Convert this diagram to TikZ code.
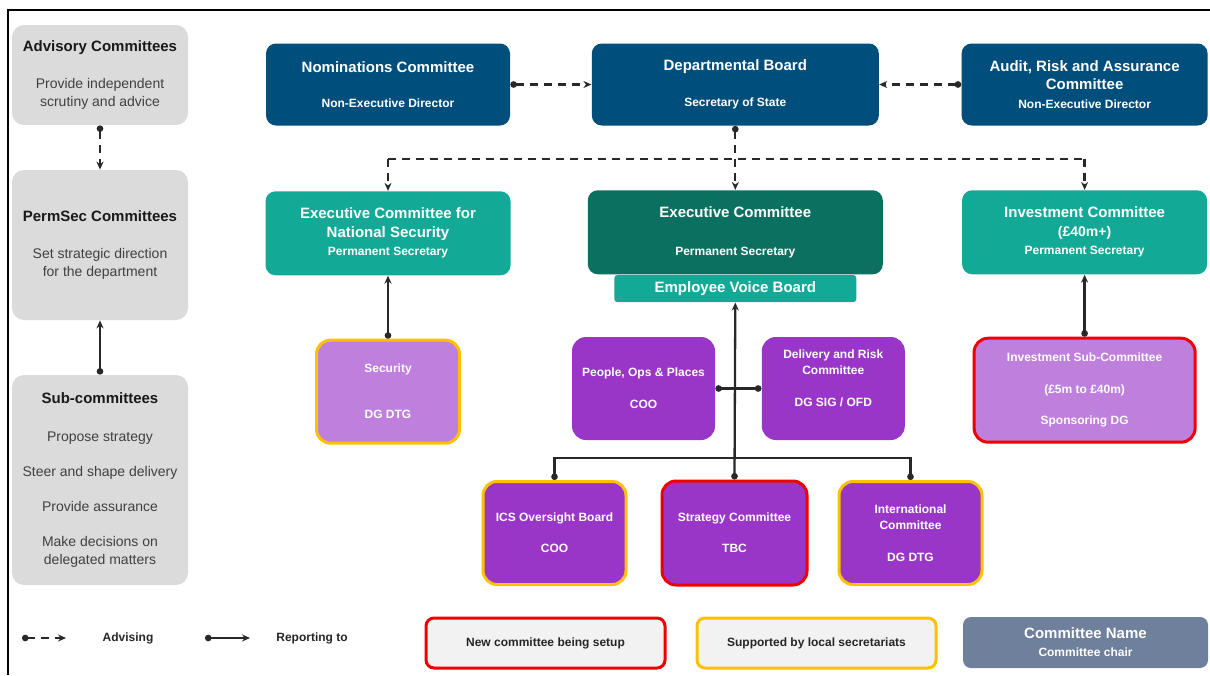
\documentclass[tikz,border=0pt]{standalone}
\usepackage{fontspec}
\setmainfont{Liberation Sans}
\usetikzlibrary{positioning,arrows.meta}

\definecolor{navy}{RGB}{0,78,123}
\definecolor{teal1}{RGB}{18,170,150}
\definecolor{tealdark}{RGB}{12,112,96}
\definecolor{violet1}{RGB}{153,54,200}
\definecolor{lilac}{RGB}{191,127,221}
\definecolor{panelgray}{RGB}{219,219,219}
\definecolor{amber}{RGB}{255,192,0}
\definecolor{alert}{RGB}{240,0,0}
\definecolor{slate}{RGB}{110,128,156}
\definecolor{wire}{RGB}{40,40,40}

\newcommand{\chairfont}{\fontsize{12}{18.5}\selectfont}
\newcommand{\paneltitle}{\bfseries\fontsize{15}{18}\selectfont\color{black!90}}

\begin{document}
\begin{tikzpicture}[
    x=1pt, y=-1pt,
    thick,
    board/.style={rectangle, rounded corners=10pt, fill=navy, text=white, align=center, inner sep=0pt, minimum height=82pt, font=\bfseries\fontsize{15}{18.5}\selectfont},
    execbox/.style={board, fill=teal1, minimum width=245pt, minimum height=84pt},
    panelbox/.style={rectangle, rounded corners=12pt, fill=panelgray, align=center, inner sep=0pt, minimum width=176pt, text=black!75, font=\fontsize{14}{17.5}\selectfont},
    subbox/.style={rectangle, rounded corners=14pt, fill=violet1, text=white, align=center, inner sep=0pt, minimum width=143pt, minimum height=103pt, font=\bfseries\fontsize{12}{16}\selectfont},
    local/.style={draw=amber, line width=3pt},
    newcom/.style={draw=alert, line width=3pt},
    legendbox/.style={rectangle, rounded corners=8pt, fill=black!5, align=center, minimum width=239pt, minimum height=50pt, text=black!85, font=\bfseries\fontsize{12}{15}\selectfont},
    keytext/.style={text=black!85, font=\bfseries\fontsize{12}{15}\selectfont},
    advise/.style={draw=wire, line width=2.3pt, dash pattern=on 8pt off 6pt, {Circle[length=6.5pt]}-{Stealth[length=8pt,width=7pt]}},
    dashline/.style={draw=wire, line width=2.3pt, dash pattern=on 8pt off 6pt},
    advtip/.style={dashline, -{Stealth[length=8pt,width=7pt]}},
    report/.style={draw=wire, line width=2.3pt, {Circle[length=6.5pt]}-{Stealth[length=8pt,width=7pt]}},
    tie/.style={draw=wire, line width=2.3pt, {Circle[length=6.5pt]}-{Circle[length=6.5pt]}}
]
\useasboundingbox (0,0) rectangle (1210,675);
\draw[line width=2pt] (8,675) -- (8,10) -- (1210,10);

% left column
\node[panelbox, minimum height=100pt] (adv) at (100,75) {{\paneltitle Advisory Committees}\\[20pt]Provide independent\\scrutiny and advice};
\node[panelbox, minimum height=150pt] (perm) at (100,245) {{\paneltitle PermSec Committees}\\[20pt]Set strategic direction\\for the department};
\node[panelbox, minimum height=210pt] (sub) at (100,480) {{\paneltitle Sub-committees}\\[20pt]Propose strategy\\[17.5pt]Steer and shape delivery\\[17.5pt]Provide assurance\\[18pt]Make decisions on\\delegated matters};

\draw[advise] (adv.south) -- (perm.north);
\draw[report] (sub.north) -- (perm.south);

% boards
\node[board, minimum width=244pt] (nom) at (388,84.5) {Nominations Committee\\[17pt]{\chairfont Non-Executive Director}};
\node[board, minimum width=287pt, right=81pt of nom] (db) {Departmental Board\\[18pt]{\chairfont Secretary of State}};
\node[board, minimum width=246pt, right=82pt of db] (aud) {Audit, Risk and Assurance\\Committee\\{\chairfont Non-Executive Director}};

\draw[advise] (nom.east) -- (db.west);
\draw[advise] (aud.west) -- (db.east);

% executive level
\node[execbox, below=65pt of nom] (exns) {Executive Committee for\\National Security\\{\chairfont Permanent Secretary}};
\node[execbox, fill=tealdark, minimum width=295pt, below=64pt of db] (exco) {Executive Committee\\[19pt]{\chairfont Permanent Secretary}};
\node[execbox, minimum width=242pt, minimum height=27pt, rounded corners=3pt, below=0pt of exco] (evb) {Employee Voice Board};
\node[execbox, below=64pt of aud] (inv) {Investment Committee\\{\fontsize{14}{18.5}\selectfont (£40m+)}\\{\chairfont Permanent Secretary}};

\draw[advise] (db.south) -- (exco.north);
\draw[dashline] (exns.north) ++(0,-32) coordinate (busL) -- (inv.north |- busL) coordinate (busR);
\draw[advtip] (busL) -- (exns.north);
\draw[advtip] (busR) -- (inv.north);

% sub-committees
\node[subbox, fill=lilac, local, below=63pt of exns] (sec) {Security\\[30pt]DG DTG};
\node[subbox] (ppl) at (643.5,388.5) {People, Ops \& Places\\[16pt]COO};
\node[subbox, text depth=20pt, right=46pt of ppl] (del) {Delivery and Risk\\Committee\\[16pt]DG SIG / OFD};
\node[subbox, fill=lilac, newcom, minimum width=221pt, minimum height=104pt, below=62pt of inv] (invsub) {Investment Sub-Committee\\[16pt](£5m to £40m)\\[15pt]Sponsoring DG};

\node[subbox, newcom, minimum width=145pt, minimum height=104pt] (strat) at (734.5,533) {Strategy Committee\\[15pt]TBC};
\node[subbox, local, left=33pt of strat] (ics) {ICS Oversight Board\\[15pt]COO};
\node[subbox, local, right=29pt of strat] (intl) {International\\Committee\\[16pt]DG DTG};

\draw[report] (sec.north) -- (exns.south);
\draw[report] (invsub.north) -- (inv.south);
\draw[report] (strat.north) -- (evb.south);
\draw[tie] (ppl.east) -- (del.west);
\draw[tie] (ics.north) -- ++(0,-22) -| (intl.north);

% key
\coordinate (advA) at (22,638);
\coordinate (advB) at (66,638);
\coordinate (repA) at (205,638);
\coordinate (repB) at (250,638);
\draw[advise] (advA) -- (advB);
\draw[report] (repA) -- (repB);
\node[keytext] (advlbl) at (128,638) {Advising};
\node[keytext] (replbl) at (312,638) {Reporting to};

\node[legendbox, newcom] (keynew) at (545.5,643) {New committee being setup};
\node[legendbox, local, right=29pt of keynew] (keylocal) {Supported by local secretariats};
\node[legendbox, fill=slate, text=white, minimum width=245pt, minimum height=51pt, font=\bfseries\fontsize{15}{18}\selectfont] (keychair) at (1085.5,642.5) {Committee Name\\{\chairfont Committee chair}};

\end{tikzpicture}
\end{document}
